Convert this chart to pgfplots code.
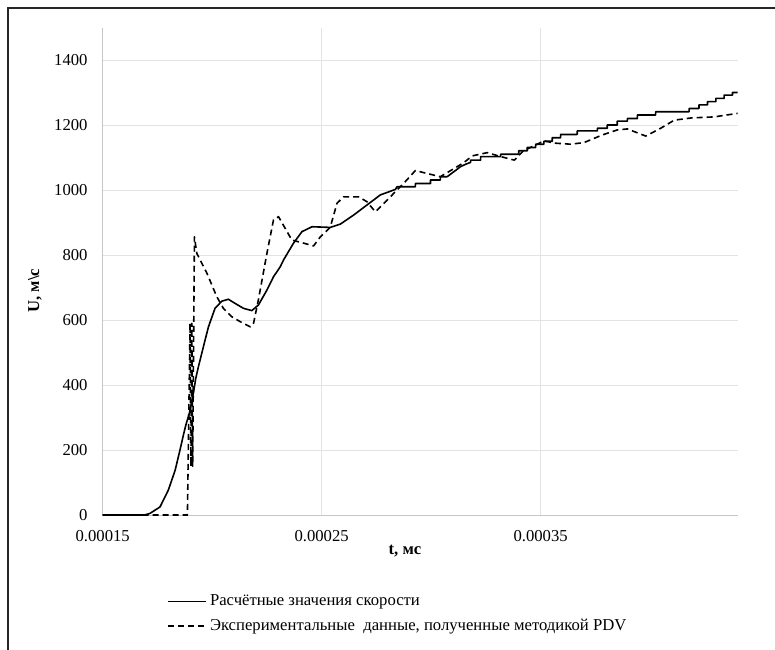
\documentclass[border=0pt]{standalone}
\usepackage{fontspec}
\setmainfont{Liberation Serif}
\usepackage{pgfplots}
\pgfplotsset{compat=1.18}
\newcommand{\chartfont}{\fontsize{12.5}{15}\selectfont}
\begin{document}
\chartfont
\begin{tikzpicture}
\useasboundingbox (-77.0pt,-100.5pt) rectangle (504.2pt,386.25pt);
\draw[line width=1.5pt, black!85] (-71pt,-102pt) -- (-71pt,380.25pt) -- (506pt,380.25pt);
\begin{axis}[
  at={(0,0)}, anchor=south west, scale only axis,
  width=476.25pt, height=365.6pt,
  xmin=1.5e-4, xmax=4.4e-4, ymin=0, ymax=1500,
  xtick={1.5e-4,2.5e-4,3.5e-4},
  xticklabels={0.00015,0.00025,0.00035},
  scaled x ticks=false, scaled y ticks=false,
  ytick={0,200,400,600,800,1000,1200,1400},
  /pgf/number format/assume math mode=true,
  /pgf/number format/1000 sep={},
  grid=major, grid style={gray!22, line width=0.75pt},
  axis x line*=bottom, axis y line*=left,
  axis line style={gray!45, line width=0.75pt, -},
  major tick length=0pt,
  tick label style={font=\chartfont, black},
  yticklabel style={xshift=-7pt},
  xticklabel style={yshift=-7pt},
  xlabel={\textbf{t, мс}},
  ylabel={\textbf{U, м\textbackslash с}},
  xlabel style={at={(axis description cs:0.476,-0.074)}, anchor=center, font=\chartfont},
  ylabel style={at={(axis description cs:-0.1066,0.46)}, anchor=center, font=\chartfont},
  legend style={at={(axis description cs:0.101,-0.155)}, anchor=north west,
    draw=none, fill=none, inner sep=0pt, row sep=2.5pt, font=\chartfont,
    nodes={text height=8.5pt, text depth=2.5pt, inner sep=2.5pt, anchor=west}},
  legend cell align=left,
  legend image code/.code={\draw[#1] (0pt,0pt) -- (28.5pt,0pt);},
]
\addplot[black, line width=1.2pt, line join=round] coordinates {
(1.50e-4,0) (1.69e-4,0) (1.716e-4,5) (1.762e-4,25) (1.800e-4,77) (1.831e-4,138)
(1.853e-4,200) (1.870e-4,250) (1.881e-4,280) (1.896e-4,313) (1.914e-4,374)
(1.925e-4,420) (1.937e-4,456) (1.960e-4,518) (1.983e-4,579) (2.013e-4,636)
(2.044e-4,658) (2.074e-4,664) (2.105e-4,651) (2.143e-4,636) (2.181e-4,629)
(2.211e-4,646) (2.250e-4,692) (2.280e-4,733) (2.311e-4,764) (2.326e-4,785)
(2.371e-4,836) (2.410e-4,872) (2.456e-4,887) (2.500e-4,886) (2.539e-4,885)
(2.585e-4,895) (2.646e-4,923) (2.707e-4,954) (2.768e-4,985) (2.837e-4,1002)
(2.844e-4,1010) (2.928e-4,1010) (2.928e-4,1020) (2.997e-4,1020) (2.997e-4,1031)
(3.042e-4,1031) (3.042e-4,1041) (3.073e-4,1041) (3.095e-4,1052) (3.115e-4,1062)
(3.134e-4,1072) (3.160e-4,1080) (3.180e-4,1085) (3.180e-4,1092) (3.226e-4,1092)
(3.226e-4,1103) (3.317e-4,1103) (3.317e-4,1110) (3.400e-4,1110) (3.400e-4,1121)
(3.439e-4,1121) (3.439e-4,1131) (3.477e-4,1131) (3.477e-4,1141) (3.515e-4,1141)
(3.515e-4,1150) (3.553e-4,1150) (3.553e-4,1161) (3.591e-4,1161) (3.591e-4,1171)
(3.667e-4,1171) (3.667e-4,1182) (3.759e-4,1182) (3.759e-4,1190) (3.804e-4,1190)
(3.804e-4,1200) (3.850e-4,1200) (3.850e-4,1212) (3.896e-4,1212) (3.896e-4,1220)
(3.942e-4,1220) (3.942e-4,1231) (4.025e-4,1231) (4.025e-4,1241) (4.178e-4,1241)
(4.178e-4,1251) (4.223e-4,1251) (4.223e-4,1262) (4.262e-4,1262) (4.262e-4,1272)
(4.300e-4,1272) (4.300e-4,1282) (4.338e-4,1282) (4.338e-4,1292) (4.376e-4,1292)
(4.376e-4,1300) (4.410e-4,1300)
};
\addlegendentry{Расчётные значения скорости}
\addplot[black, line width=1.2pt, dash pattern=on 4.5pt off 3pt, line join=round] coordinates {
(1.50e-4,0) (1.887e-4,0) (1.899e-4,590) (1.903e-4,150) (1.907e-4,590) (1.911e-4,150)
(1.919e-4,856) (1.930e-4,805) (1.976e-4,744) (2.021e-4,672) (2.051e-4,636)
(2.090e-4,610) (2.128e-4,595) (2.174e-4,579) (2.189e-4,590) (2.211e-4,662)
(2.250e-4,805) (2.280e-4,908) (2.303e-4,918) (2.364e-4,846) (2.410e-4,838)
(2.463e-4,828) (2.494e-4,856) (2.539e-4,885) (2.570e-4,959) (2.600e-4,979)
(2.669e-4,979) (2.707e-4,964) (2.745e-4,933) (2.799e-4,969) (2.844e-4,1000)
(2.874e-4,1020) (2.928e-4,1060) (2.981e-4,1051) (3.042e-4,1041) (3.134e-4,1078)
(3.160e-4,1090) (3.187e-4,1105) (3.256e-4,1115) (3.317e-4,1103) (3.380e-4,1092)
(3.420e-4,1120) (3.515e-4,1151) (3.570e-4,1144) (3.637e-4,1141) (3.698e-4,1146)
(3.780e-4,1169) (3.850e-4,1185) (3.896e-4,1188) (3.980e-4,1166) (4.048e-4,1190)
(4.110e-4,1215) (4.190e-4,1222) (4.292e-4,1225) (4.410e-4,1237)
};
\addlegendentry{Экспериментальные \ данные, полученные методикой PDV}
\end{axis}
\end{tikzpicture}
\end{document}
